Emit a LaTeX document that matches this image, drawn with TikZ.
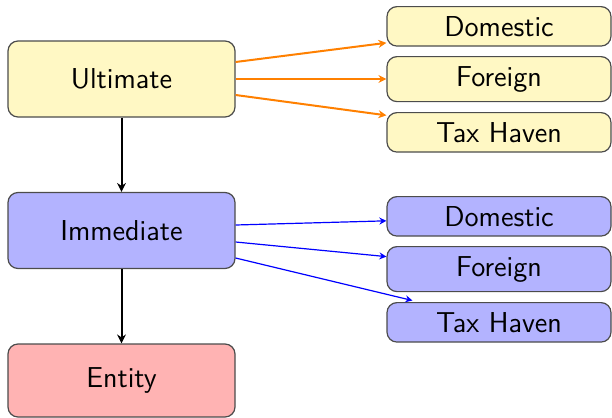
\documentclass[tikz,border=0pt]{standalone}
\usetikzlibrary{arrows.meta,calc}
\definecolor{ylw}{RGB}{255,248,196}
\definecolor{blu}{RGB}{179,179,255}
\definecolor{rd}{RGB}{255,179,179}
\definecolor{org}{RGB}{255,128,0}
\begin{document}
\begin{tikzpicture}[x=0.5pt,y=-0.5pt,
  box/.style={draw=black!70, line width=0.6pt, rounded corners=5pt,
    font=\sffamily\fontsize{14.4}{17}\selectfont, inner sep=0pt},
  bigbox/.style={box, minimum width=113.5pt, minimum height=38pt},
  smallbox/.style={box, minimum width=112pt, inner ysep=4.8pt, anchor=north},
  oarrow/.style={draw=org, line width=1pt, -{Stealth[length=4pt,width=4pt,inset=1.3pt]}},
  barrow/.style={draw=blue, line width=0.6pt, -{Stealth[length=3.5pt,width=3.5pt,inset=1.1pt]}},
  karrow/.style={draw=black, line width=1pt, -{Stealth[length=4.5pt,width=4.5pt,inset=1.5pt]}}
]
\useasboundingbox (0,0) rectangle (612,418);
\node[bigbox, fill=ylw] (ult) at (121.5,79) {Ultimate};
\node[bigbox, fill=blu] (imm) at (121.5,230.5) {Immediate};
\node[bigbox, fill=rd, minimum height=36.5pt] (ent) at (121.5,380.5) {Entity};

\node[smallbox, fill=ylw] (ydom) at (499,6) {Domestic};
\node[smallbox, fill=ylw] (yfor) at (499,56) {Foreign};
\node[smallbox, fill=ylw] (ytax) at (499,112) {Tax Haven};

\node[smallbox, fill=blu] (bdom) at (499,196) {Domestic};
\node[smallbox, fill=blu] (bfor) at (499,246) {Foreign};
\node[smallbox, fill=blu] (btax) at (499,302) {Tax Haven};

\draw[oarrow] ($(ult.east)+(0,-17)$) -- ($(ydom.west)+(0,16.5)$);
\draw[oarrow] (ult.east) -- (ult.east -| yfor.west);
\draw[oarrow] ($(ult.east)+(0,16)$) -- ($(ytax.west)+(0,-17)$);

\draw[barrow] ($(imm.east)+(0,-5.5)$) -- ($(bdom.west)+(0,4.5)$);
\draw[barrow] ($(imm.east)+(0,11.5)$) -- ($(bfor.west)+(0,-12.5)$);
\draw[barrow] ($(imm.east)+(0,27.5)$) -- ($(btax.north west)+(26,-1.5)$);

\draw[karrow] (ult.south) -- (imm.north);
\draw[karrow] (imm.south) -- (ent.north);
\end{tikzpicture}
\end{document}
